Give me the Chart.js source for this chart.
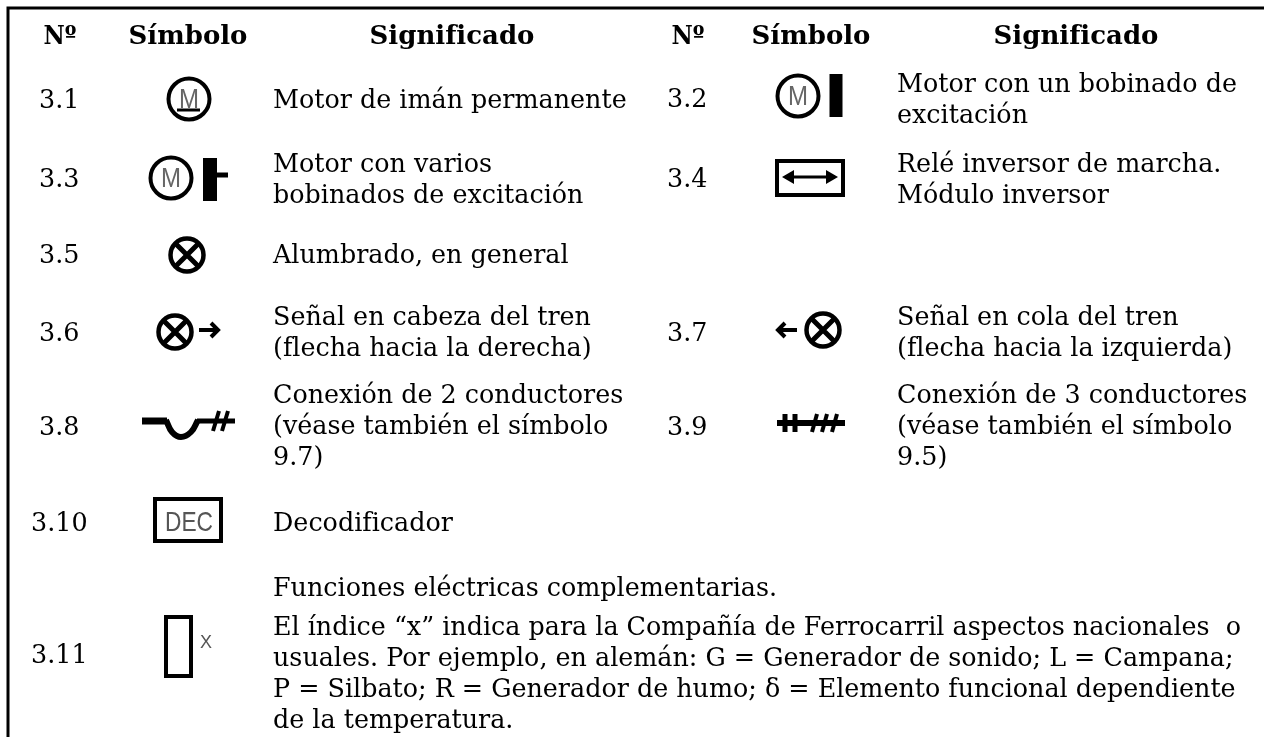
<!DOCTYPE html>
<html lang="es">
<head>
<meta charset="utf-8">
<title>Símbolos</title>
<script src="https://cdn.jsdelivr.net/npm/chart.js@4"></script>
<style>
	html, body { margin: 0; background: #fff; }
	canvas { display: block; }
</style>
</head>
<body>
<canvas id="myChart" width="1264" height="737"></canvas>
<script>
const headers = ['Nº', 'Símbolo', 'Significado', 'Nº', 'Símbolo', 'Significado'];
const numbers = ['3.1', '3.2', '3.3', '3.4', '3.5', '3.6', '3.7', '3.8', '3.9', '3.10', '3.11'];
const meanings = [
	['Motor de imán permanente'],
	['Motor con un bobinado de', 'excitación'],
	['Motor con varios', 'bobinados de excitación'],
	['Relé inversor de marcha.', 'Módulo inversor'],
	['Alumbrado, en general'],
	['Señal en cabeza del tren', '(flecha hacia la derecha)'],
	['Señal en cola del tren', '(flecha hacia la izquierda)'],
	['Conexión de 2 conductores', '(véase también el símbolo', '9.7)'],
	['Conexión de 3 conductores', '(véase también el símbolo', '9.5)'],
	['Decodificador'],
	['Funciones eléctricas complementarias.'],
];
const noteLines = [
	'El índice “x” indica para la Compañía de Ferrocarril aspectos nacionales  o',
	'usuales. Por ejemplo, en alemán: G = Generador de sonido; L = Campana;',
	'P = Silbato; R = Generador de humo; δ = Elemento funcional dependiente',
	'de la temperatura.',
];

// layout of the table, in picture pixels
const headerX = [60, 188, 452, 688, 811, 1076];
const headerY = 44;
const numberX = [39, 667, 39, 667, 39, 39, 667, 39, 667, 31, 31];
const numberY = [108, 107, 187, 187, 263, 341, 341, 435, 435, 531, 663];
const meaningX = [273, 897, 273, 897, 273, 273, 897, 273, 897, 273, 273];
const meaningY = [108, 92, 172, 172, 263, 325, 325, 403, 403, 531, 596];
const lineStep = 31;
const noteY = [635, 666, 697, 728];

const motorCircles = [{ x: 189, y: 99 }, { x: 798, y: 96 }, { x: 171, y: 178 }];
const lampCircles = [{ x: 187, y: 255 }, { x: 175, y: 332 }, { x: 823, y: 330 }];
const arrowHeads = [{ x: 790, y: 177 }, { x: 830, y: 177 }];
const arrowHeadTurns = [-90, 90];

// [line width, points, tension]
const strokes = [
	[3, [[8, 737], [8, 8], [1264, 8]]],
	[3, [[177, 110], [200, 110]]],
	[13, [[836, 74], [836, 117]]],
	[14, [[210, 158], [210, 201]]],
	[5, [[216, 175], [228, 175]]],
	[4, [[777, 161], [843, 161], [843, 195], [777, 195], [777, 159]]],
	[3, [[785, 177], [835, 177]]],
	[4, [[199, 330], [217, 330]]],
	[4, [[211, 323], [218, 330], [211, 337]]],
	[4, [[779, 330], [797, 330]]],
	[4, [[785, 323], [778, 330], [785, 337]]],
	[7, [[142, 421], [167, 421]]],
	[6, [[166, 420], [172, 432], [181, 437], [191, 432], [198, 420]], 0.4],
	[5, [[197, 421], [235, 421]]],
	[4, [[213, 431], [219, 411]]],
	[4, [[222, 431], [228, 411]]],
	[6, [[777, 423], [845, 423]]],
	[5, [[785, 414], [785, 432]]],
	[5, [[795, 414], [795, 432]]],
	[4, [[812, 432], [817, 414]]],
	[4, [[822, 432], [827, 414]]],
	[4, [[832, 432], [837, 414]]],
	[4, [[155, 499], [221, 499], [221, 541], [155, 541], [155, 497]]],
	[4, [[166, 617], [191, 617], [191, 676], [166, 676], [166, 615]]],
];

const bodyFont = '25.4px "DejaVu Serif"';
const headFont = 'bold 26px "DejaVu Serif"';

const tableText = {
	id: 'tableText',
	afterDatasetsDraw(chart) {
		const { ctx, scales } = chart;
		const put = (text, x, y, font, color, align, maxWidth) => {
			ctx.font = font;
			ctx.fillStyle = color || '#000';
			ctx.textAlign = align || 'left';
			ctx.fillText(text, scales.x.getPixelForValue(x), scales.y.getPixelForValue(y), maxWidth);
		};

		ctx.save();
		ctx.textBaseline = 'alphabetic';
		headers.forEach((h, i) => put(h, headerX[i], headerY, headFont, '#000', 'center', h === 'Nº' ? 33 : undefined));
		numbers.forEach((n, i) => {
			put(n, numberX[i], numberY[i], bodyFont);
			meanings[i].forEach((line, j) => put(line, meaningX[i], meaningY[i] + j * lineStep, bodyFont));
		});
		noteLines.forEach((line, i) => put(line, 273, noteY[i], bodyFont));

		// lettering inside the symbols
		motorCircles.forEach(c => put('M', c.x, c.y + 9, '28px "Liberation Sans"', '#666', 'center', 20));
		put('DEC', 189, 531, '28px "Liberation Sans"', '#555', 'center', 48);
		put('X', 206, 648, '18px "Liberation Sans"', '#555', 'center', 12);
		ctx.restore();
	},
};

const datasets = [
	{ data: lampCircles, pointStyle: 'crossRot', pointRadius: 17, borderWidth: 5, borderColor: '#000' },
	{ data: lampCircles, pointRadius: 16.5, borderWidth: 4.5, borderColor: '#000', backgroundColor: 'transparent' },
	{ data: motorCircles, pointRadius: 20.5, borderWidth: 4, borderColor: '#000', backgroundColor: 'transparent' },
	{
		data: arrowHeads,
		pointStyle: 'triangle',
		pointRotation: arrowHeadTurns,
		pointRadius: 8,
		borderWidth: 0,
		backgroundColor: '#000',
	},
];

strokes.forEach(([width, pts, tension]) => datasets.push({
	data: pts.map(([x, y]) => ({ x, y })),
	showLine: true,
	pointRadius: 0,
	tension: tension || 0,
	borderColor: '#000',
	borderWidth: width,
	borderCapStyle: 'butt',
	borderJoinStyle: 'miter',
}));

new Chart(document.getElementById('myChart'), {
	type: 'scatter',
	data: { datasets },
	options: {
		responsive: false,
		animation: false,
		events: [],
		layout: { padding: 0, autoPadding: false },
		plugins: { legend: { display: false }, tooltip: { enabled: false } },
		scales: {
			x: { type: 'linear', display: false, min: 0, max: 1264 },
			y: { type: 'linear', display: false, min: 0, max: 737, reverse: true },
		},
	},
	plugins: [tableText],
});
</script>
</body>
</html>
